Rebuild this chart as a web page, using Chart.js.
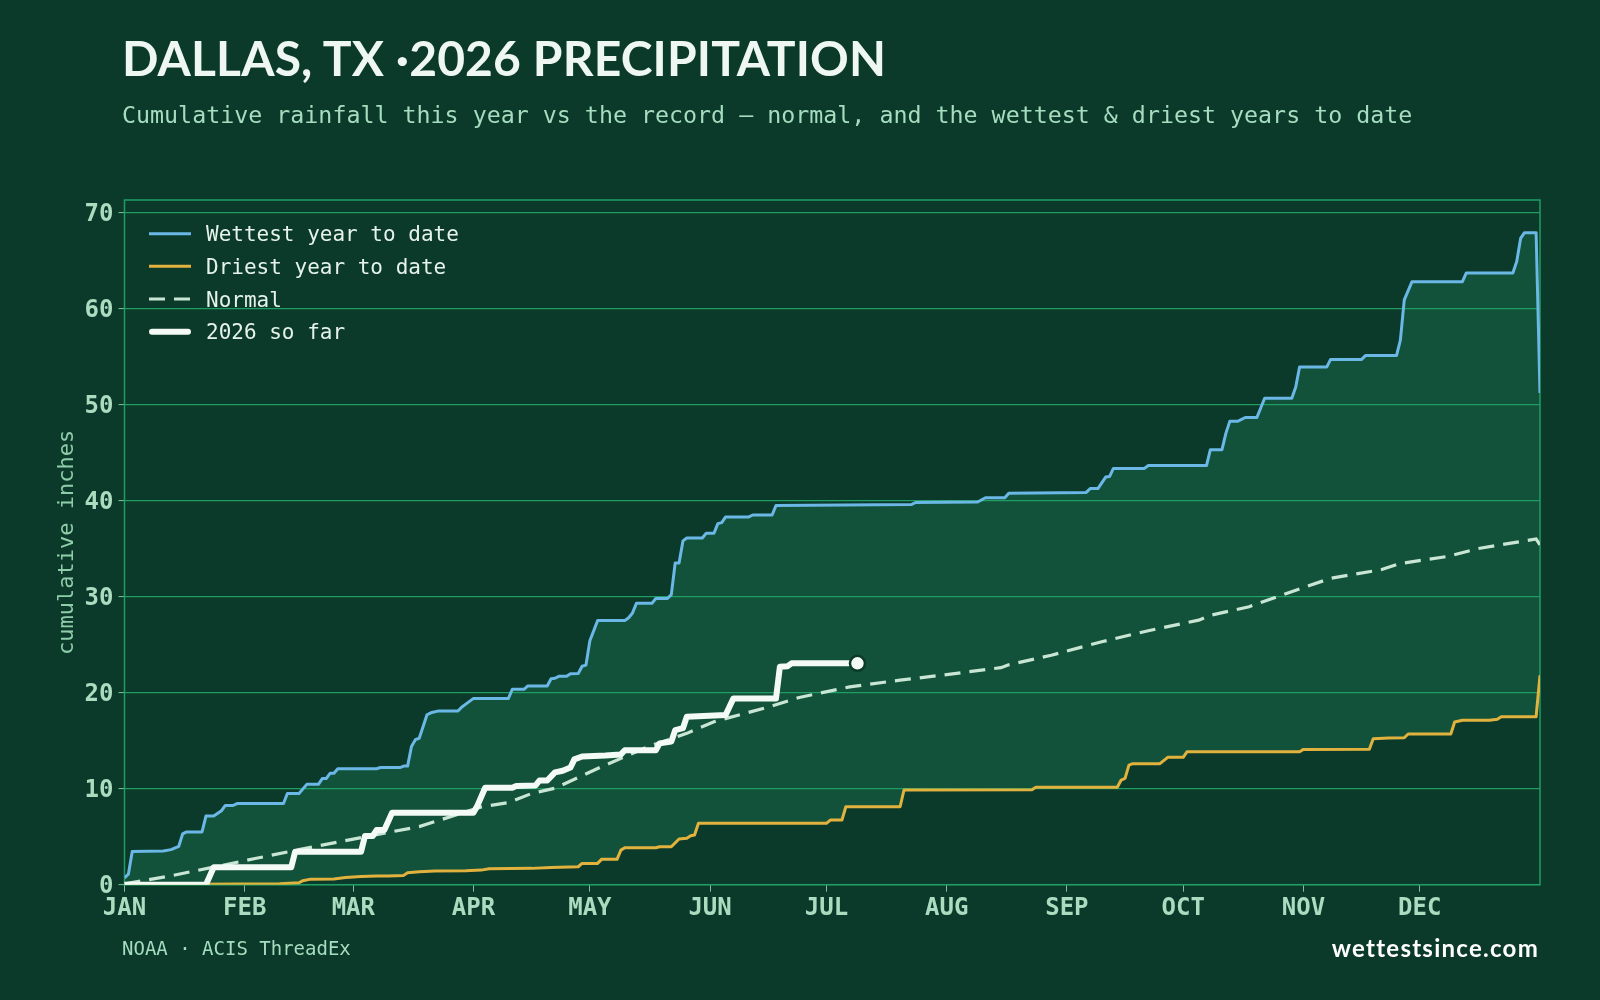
<!DOCTYPE html>
<html>
<head>
<meta charset="utf-8">
<script src="https://cdn.jsdelivr.net/npm/chart.js@4.4.1/dist/chart.umd.min.js"></script>
<style>
html,body{margin:0;padding:0;background:#0b3a2a;width:1600px;height:1000px;overflow:hidden;}
#wrap{position:relative;width:1600px;height:1000px;}
#chart{position:absolute;left:0;top:0;}
.t{position:absolute;white-space:nowrap;margin:0;display:inline-block;}
#title{left:122px;top:34px;font:700 48px/48px "Lato";color:#eef7f1;}
#sub{left:122px;top:103px;font:400 23.3px/23.3px "DejaVu Sans Mono";color:#a6dcbf;}
#src{left:122px;top:939px;font:400 19px/19px "DejaVu Sans Mono";color:#a6dcbf;}
#brand{right:61px;top:936px;font:700 24px/24px "Lato";color:#ffffff;}
</style>
</head>
<body>
<div id="wrap">
<canvas id="chart" width="1600" height="1000"></canvas>
<div class="t" id="title">DALLAS, TX ·2026 PRECIPITATION</div>
<div class="t" id="sub">Cumulative rainfall this year vs the record — normal, and the wettest &amp; driest years to date</div>
<div class="t" id="src">NOAA · ACIS ThreadEx</div>
<div class="t" id="brand">wettestsince.com</div>
</div>
<script>
// ---- data (day of year, 0 = Jan 1) ----
const months = ['JAN','FEB','MAR','APR','MAY','JUN','JUL','AUG','SEP','OCT','NOV','DEC'];
const monthStartDays = [0,31,59,90,120,151,181,212,243,273,304,334];
const yTicks = [0,10,20,30,40,50,60,70];

const wettestDays = [0,1,2,10,12,14,15,16,20,21,23,25,26,28,29,41,42,45,47,50,51,52,53,54,55,65,66,71,72,73,74,75,76,78,79,81,86,87,88,90,99,100,103,104,109,110,111,112,114,115,117,118,119,120,122,129,130,131,132,136,137,140,141,142,143,144,145,149,150,152,153,154,155,161,162,167,168,203,204,220,222,227,228,248,249,251,253,254,255,263,264,279,280,283,284,285,287,289,292,294,301,302,303,310,311,319,320,328,329,330,332,345,346,358,359,360,361,364,365];
const wettestInches = [0.7,1.1,3.45,3.5,3.65,4.0,5.3,5.5,5.5,7.15,7.15,7.7,8.25,8.25,8.45,8.45,9.5,9.5,10.45,10.45,11.05,11.05,11.6,11.6,12.08,12.08,12.2,12.2,12.35,12.35,14.4,15.1,15.25,17.7,17.9,18.1,18.1,18.5,18.8,19.4,19.4,20.35,20.35,20.7,20.7,21.45,21.5,21.7,21.7,21.97,22.0,22.75,22.87,25.4,27.5,27.5,27.8,28.3,29.3,29.3,29.8,29.8,30.2,33.5,33.5,35.8,36.1,36.1,36.6,36.6,37.6,37.7,38.3,38.3,38.5,38.5,39.5,39.6,39.8,39.85,40.3,40.3,40.75,40.85,41.25,41.25,42.45,42.5,43.35,43.35,43.65,43.65,45.3,45.3,47.0,48.25,48.25,48.65,48.65,50.65,50.65,51.8,53.9,53.9,54.7,54.7,55.1,55.1,56.7,60.9,62.8,62.8,63.7,63.7,64.9,67.3,67.9,67.9,51.2];

const driestDays = [0,40,45,46,48,54,57,61,65,68,72,73,76,80,88,92,94,105,110,117,118,122,123,127,128,129,137,138,141,143,145,146,147,148,181,182,185,186,200,201,234,235,256,257,258,259,260,267,269,273,274,303,304,321,322,326,330,331,342,343,345,352,354,355,364,365];
const driestInches = [0,0.1,0.2,0.42,0.58,0.6,0.75,0.85,0.9,0.9,0.97,1.25,1.35,1.42,1.45,1.52,1.67,1.7,1.8,1.87,2.22,2.22,2.64,2.64,3.6,3.85,3.85,3.95,3.95,4.76,4.83,5.1,5.17,6.39,6.39,6.73,6.73,8.12,8.12,9.86,9.88,10.14,10.14,10.9,11.07,12.46,12.6,12.6,13.26,13.26,13.85,13.85,14.09,14.1,15.2,15.27,15.3,15.69,15.69,16.94,17.13,17.13,17.23,17.49,17.49,21.8];

const normalDays = [0,11,22,34,45,59,76,92,99,105,111,123,135,145,152,166,174,187,200,213,226,228,239,252,264,277,280,290,298,304,311,316,324,329,341,349,364,365];
const normalInches = [0.1,0.85,1.75,2.75,3.65,4.75,6.05,8.1,8.55,9.5,10.05,12.28,14.37,15.76,16.97,18.5,19.5,20.6,21.3,21.93,22.6,22.9,23.9,25.3,26.45,27.55,28.05,28.95,30.1,30.95,31.9,32.25,32.8,33.45,34.17,35.0,36.0,35.4];

const days2026 = [0,21,23,43,44,61,62,64,65,67,69,90,91,93,100,101,106,107,109,111,113,115,116,118,124,128,129,137,138,141,142,144,145,155,157,168,169,171,172,189];
const inches2026 = [0,0,1.81,1.81,3.44,3.44,5.07,5.07,5.69,5.69,7.5,7.5,8.24,10.1,10.1,10.27,10.34,10.85,10.85,11.7,11.87,12.2,13.05,13.35,13.45,13.57,14.0,14.0,14.72,14.9,16.1,16.3,17.5,17.66,19.4,19.4,22.7,22.76,23.05,23.05];

const seriesLabels = ['Wettest year to date','Driest year to date','Normal','2026 so far'];

// ---- styling ----
const C = {
  grid:'#1f9d63', tick:'#7fbf9c', tickLabel:'#acdcc0', axisTitle:'#8fcca9',
  fill:'#12523a', wettest:'#6bb7e6', driest:'#e2b23f', normal:'#c9e5d3',
  now:'#f4fbf6', legendText:'#e6f3ec', bg:'#0b3a2a'
};

function pts(xs, ys){ return xs.map((x,i)=>({x:x, y:ys[i]})); }

const frame = {
  id:'frame',
  beforeDatasetsDraw(chart){
    const a = chart.chartArea, ctx = chart.ctx;
    ctx.save();
    ctx.strokeStyle = C.grid; ctx.lineWidth = 1.5;
    ctx.strokeRect(a.left, a.top, a.right - a.left, a.bottom - a.top);
    ctx.restore();
  }
};

const lineLegend = {
  id:'lineLegend',
  afterDatasetsDraw(chart){
    const a = chart.chartArea, ctx = chart.ctx;
    const x0 = a.left + 24.5, x1 = a.left + 66.5, tx = a.left + 81.5;
    ctx.save();
    chart.data.datasets.forEach((ds, i) => {
      const y = a.top + 33.7 + i * 32.65;
      ctx.beginPath();
      ctx.strokeStyle = ds.borderColor;
      ctx.lineWidth = ds.legendWidth;
      ctx.lineCap = ds.borderCapStyle || 'butt';
      ctx.setLineDash(ds.borderDash || []);
      const pad = ds.borderCapStyle === 'round' ? ds.legendWidth/2 : 0;
      ctx.moveTo(x0 + pad, y); ctx.lineTo(x1 - pad, y);
      ctx.stroke();
      ctx.setLineDash([]);
      ctx.fillStyle = C.legendText;
      ctx.font = '21px "DejaVu Sans Mono"';
      ctx.textBaseline = 'alphabetic';
      ctx.textAlign = 'left';
      ctx.fillText(ds.label, tx, y + 7.6);
    });
    ctx.restore();
  }
};

const last2026 = days2026.length - 1;

new Chart(document.getElementById('chart'), {
  type:'line',
  data:{
    datasets:[
      {label:seriesLabels[0], data:pts(wettestDays, wettestInches), borderColor:C.wettest, borderWidth:3,
       legendWidth:3, backgroundColor:C.fill, fill:'+1', pointRadius:0, tension:0, borderJoinStyle:'round', order:4},
      {label:seriesLabels[1], data:pts(driestDays, driestInches), borderColor:C.driest, borderWidth:3,
       legendWidth:3, fill:false, pointRadius:0, tension:0, borderJoinStyle:'round', order:3},
      {label:seriesLabels[2], data:pts(normalDays, normalInches), borderColor:C.normal, borderWidth:3.2,
       legendWidth:3.2, borderDash:[16,9], fill:false, pointRadius:0, tension:0, order:2},
      {label:seriesLabels[3], data:pts(days2026, inches2026), borderColor:C.now, borderWidth:6,
       legendWidth:6, borderCapStyle:'round', borderJoinStyle:'round', fill:false, tension:0, order:1,
       pointRadius:(c)=> c.dataIndex === last2026 ? 7.5 : 0,
       pointBackgroundColor:C.now, pointBorderColor:C.bg, pointBorderWidth:2.5, pointHoverRadius:0}
    ]
  },
  options:{
    responsive:false, animation:false, devicePixelRatio:1,
    events:[],
    layout:{padding:{left:50, right:60, top:200, bottom:60}},
    plugins:{
      legend:{display:false}, tooltip:{enabled:false},
      filler:{drawTime:'beforeDraw', propagate:false}
    },
    scales:{
      x:{
        type:'linear', min:0, max:365,
        afterBuildTicks:(s)=>{ s.ticks = monthStartDays.map(v=>({value:v})); },
        afterFit:(s)=>{ s.height = 55.3; },
        ticks:{
          autoSkip:false, maxRotation:0, padding:3, color:C.tickLabel,
          font:{family:'"DejaVu Sans Mono"', weight:'bold', size:24},
          callback:(v)=> months[monthStartDays.indexOf(v)]
        },
        grid:{display:true, drawOnChartArea:false, drawTicks:true, tickLength:7, tickColor:C.tick, tickWidth:1},
        border:{display:false}
      },
      y:{
        min:0, max:71.3,
        afterBuildTicks:(s)=>{ s.ticks = yTicks.map(v=>({value:v})); },
        afterFit:(s)=>{ s.width = 74.5; },
        ticks:{
          padding:5, labelOffset:2.5, color:C.tickLabel,
          font:{family:'"DejaVu Sans Mono"', weight:'bold', size:24},
          callback:(v)=> String(v)
        },
        grid:{color:C.grid, lineWidth:1.2, tickLength:6, tickColor:C.tick, tickWidth:1},
        border:{display:false},
        title:{display:true, text:'cumulative inches', color:C.axisTitle,
               font:{family:'"DejaVu Sans Mono"', size:22}, padding:{top:4, bottom:0}}
      }
    }
  },
  plugins:[frame, lineLegend]
});

// fit headline widths to the reference layout
function fitWidth(id, target){
  const el = document.getElementById(id);
  const n = el.textContent.length;
  const w = el.getBoundingClientRect().width;
  el.style.letterSpacing = ((target - w) / (n - 1)) + 'px';
}
fitWidth('title', 764);
fitWidth('brand', 205);
</script>
</body>
</html>
